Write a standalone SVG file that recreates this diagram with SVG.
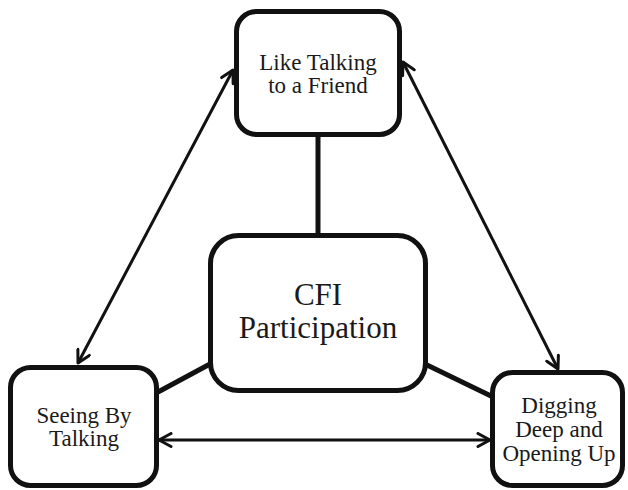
<svg xmlns="http://www.w3.org/2000/svg" width="628" height="490" viewBox="0 0 628 490">
  <style>
    .box { fill: #ffffff; stroke: #111111; stroke-width: 5; }
    .link { stroke: #111111; stroke-width: 5; fill: none; }
    .arrow { stroke: #111111; stroke-width: 3; fill: none; marker-start: url(#head); marker-end: url(#head); }
    .label { font-size: 23px; fill: #1a1a1a; text-anchor: middle; }
    .big { font-size: 31px; }
  </style>
  <defs>
    <marker id="head" markerUnits="userSpaceOnUse" viewBox="0 0 16 16" markerWidth="16" markerHeight="16" refX="14" refY="8" orient="auto-start-reverse">
      <path d="M2,1.5 L14,8 L2,14.5" fill="none" stroke="#111111" stroke-width="3" stroke-linejoin="round" stroke-linecap="round"/>
    </marker>
  </defs>

  <!-- connectors -->
  <g id="connectors">
    <line class="link" x1="318" y1="136" x2="318" y2="234"/>
    <line class="link" x1="158" y1="392" x2="210" y2="364"/>
    <line class="link" x1="427" y1="365" x2="491" y2="396"/>
    <line class="arrow" x1="78" y1="363" x2="233" y2="70"/>
    <line class="arrow" x1="403" y1="62" x2="558" y2="369"/>
    <line class="arrow" x1="159" y1="440" x2="490" y2="440"/>
  </g>

  <g font-family="Liberation Serif, Times New Roman, serif">
    <g id="friend">
      <rect class="box" x="236.5" y="11.5" width="163" height="123" rx="20"/>
      <text class="label" x="318" y="70">Like Talking</text>
      <text class="label" x="318" y="93">to a Friend</text>
    </g>

    <g id="cfi">
      <rect class="box" x="210.5" y="235.5" width="215" height="155" rx="28"/>
      <text class="label big" x="318" y="305">CFI</text>
      <text class="label big" x="318" y="338">Participation</text>
    </g>

    <g id="seeing">
      <rect class="box" x="10.5" y="367.5" width="146" height="118" rx="20"/>
      <text class="label" x="84" y="423">Seeing By</text>
      <text class="label" x="84" y="446">Talking</text>
    </g>

    <g id="digging">
      <rect class="box" x="492.5" y="372.5" width="130" height="113" rx="20"/>
      <text class="label" x="559" y="413">Digging</text>
      <text class="label" x="559" y="437">Deep and</text>
      <text class="label" x="559" y="461">Opening Up</text>
    </g>
  </g>
</svg>
